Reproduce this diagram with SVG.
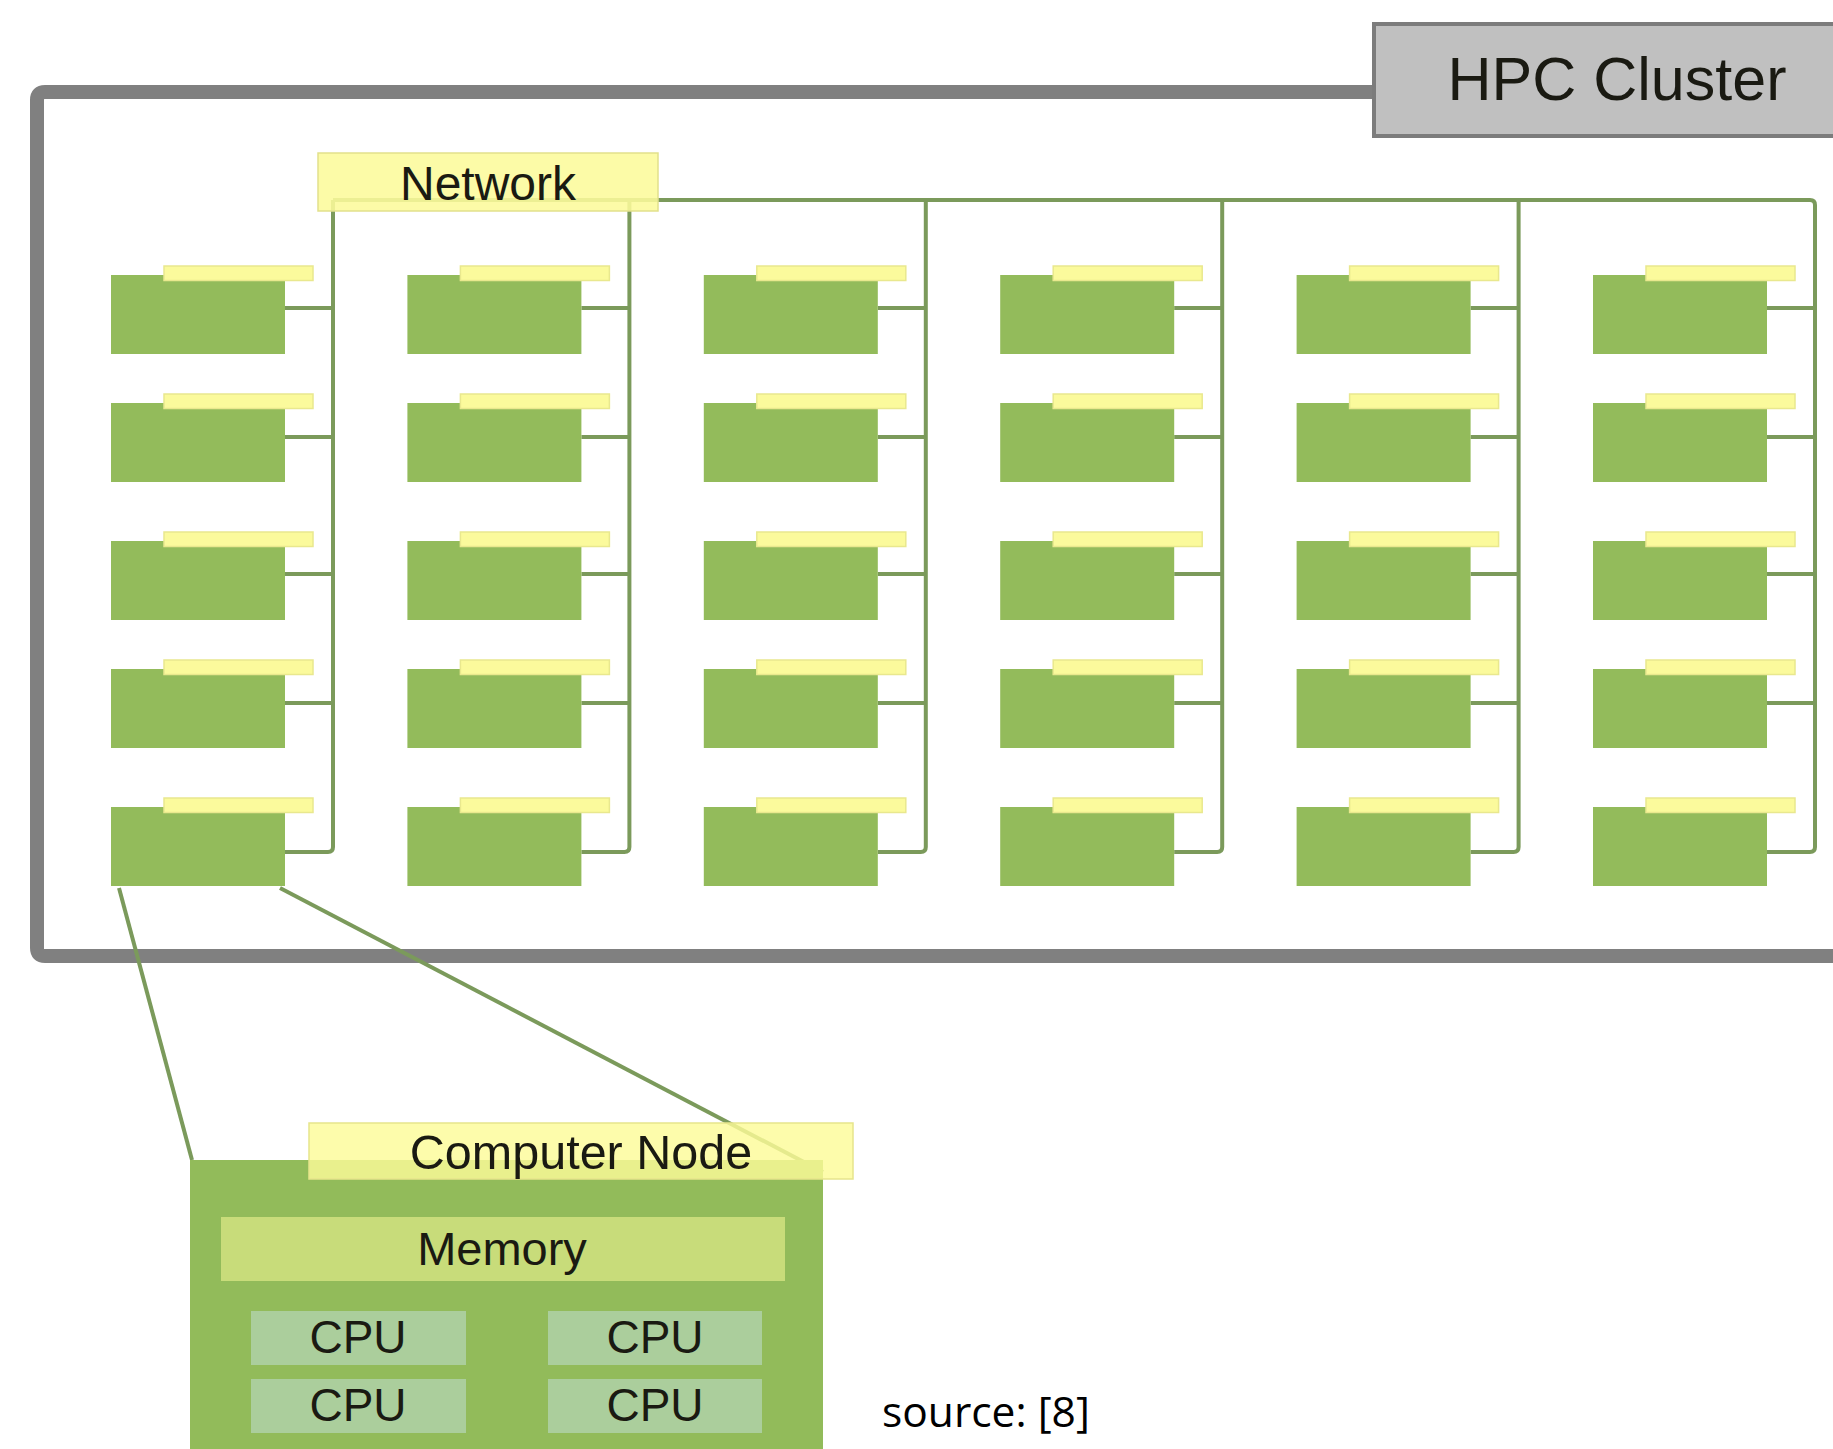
<svg xmlns="http://www.w3.org/2000/svg" width="1833" height="1449" viewBox="0 0 1833 1449">
  <style>
    .frame { fill: none; stroke: #808080; stroke-width: 14; }
    .wire { fill: none; stroke: #7b9a5b; stroke-width: 4; }
    .node { fill: #93bb5b; }
    .tab { fill: #fbfa9c; stroke: #e9e88e; stroke-width: 1.5; }
    .label { font-family: "Liberation Sans", Arial, sans-serif; fill: #1a1a12; text-anchor: middle; }
    .cpu { fill: #abce9c; }
  </style>
  <defs>
    <!-- one cluster node: green body with a yellow tab on top -->
    <g id="cnode">
      <rect class="node" x="0" y="0" width="174" height="79"/>
      <rect class="tab" x="53" y="-9" width="149" height="14.5"/>
    </g>
  </defs>

  <rect width="1833" height="1449" fill="#ffffff"/>

  <!-- cluster boundary -->
  <g id="cluster-frame">
    <path class="frame" d="M1374,92 H45 Q37,92 37,100 V948 Q37,956 45,956 H1845"/>
  </g>

  <!-- network wiring -->
  <g id="connectors">
    <path class="wire" d="M333,200 H1810 Q1815,200 1815,205"/>
    <!-- column buses and node drops -->
    <g id="bus-col1">
      <path class="wire" d="M333,200 V847 Q333,852 328,852 H285"/>
      <path class="wire" d="M285,308 H333 M285,437 H333 M285,574 H333 M285,703 H333"/>
    </g>
    <g id="bus-col2">
      <path class="wire" d="M629.4,200 V847 Q629.4,852 624.4,852 H581.4"/>
      <path class="wire" d="M581.4,308 H629.4 M581.4,437 H629.4 M581.4,574 H629.4 M581.4,703 H629.4"/>
    </g>
    <g id="bus-col3">
      <path class="wire" d="M925.8,200 V847 Q925.8,852 920.8,852 H877.8"/>
      <path class="wire" d="M877.8,308 H925.8 M877.8,437 H925.8 M877.8,574 H925.8 M877.8,703 H925.8"/>
    </g>
    <g id="bus-col4">
      <path class="wire" d="M1222.2,200 V847 Q1222.2,852 1217.2,852 H1174.2"/>
      <path class="wire" d="M1174.2,308 H1222.2 M1174.2,437 H1222.2 M1174.2,574 H1222.2 M1174.2,703 H1222.2"/>
    </g>
    <g id="bus-col5">
      <path class="wire" d="M1518.6,200 V847 Q1518.6,852 1513.6,852 H1470.6"/>
      <path class="wire" d="M1470.6,308 H1518.6 M1470.6,437 H1518.6 M1470.6,574 H1518.6 M1470.6,703 H1518.6"/>
    </g>
    <g id="bus-col6">
      <path class="wire" d="M1815,205 V847 Q1815,852 1810,852 H1767"/>
      <path class="wire" d="M1767,308 H1815 M1767,437 H1815 M1767,574 H1815 M1767,703 H1815"/>
    </g>
    <!-- zoom lines to the node detail -->
    <path class="wire" stroke-width="3.5" d="M119,888 L192,1160"/>
    <path class="wire" stroke-width="3.5" d="M280,888 L823,1172"/>
  </g>

  <!-- network label -->
  <g id="network">
    <rect x="318" y="153" width="340" height="58" fill="#fcfb9b" fill-opacity="0.88" stroke="#e2e18c" stroke-width="1.5"/>
    <text class="label" x="488" y="200" font-size="48">Network</text>
  </g>

  <!-- cluster title -->
  <g id="hpc-cluster">
    <rect x="1374" y="24" width="470" height="112" fill="#c0c0c0" stroke="#7c7c7c" stroke-width="4"/>
    <text class="label" x="1617" y="100" font-size="61">HPC Cluster</text>
  </g>

  <!-- compute nodes: 6 columns x 5 rows -->
  <g id="nodes">
    <g id="col1">
      <use href="#cnode" x="111" y="275"/>
      <use href="#cnode" x="111" y="403"/>
      <use href="#cnode" x="111" y="541"/>
      <use href="#cnode" x="111" y="669"/>
      <use href="#cnode" x="111" y="807"/>
    </g>
    <g id="col2">
      <use href="#cnode" x="407.4" y="275"/>
      <use href="#cnode" x="407.4" y="403"/>
      <use href="#cnode" x="407.4" y="541"/>
      <use href="#cnode" x="407.4" y="669"/>
      <use href="#cnode" x="407.4" y="807"/>
    </g>
    <g id="col3">
      <use href="#cnode" x="703.8" y="275"/>
      <use href="#cnode" x="703.8" y="403"/>
      <use href="#cnode" x="703.8" y="541"/>
      <use href="#cnode" x="703.8" y="669"/>
      <use href="#cnode" x="703.8" y="807"/>
    </g>
    <g id="col4">
      <use href="#cnode" x="1000.2" y="275"/>
      <use href="#cnode" x="1000.2" y="403"/>
      <use href="#cnode" x="1000.2" y="541"/>
      <use href="#cnode" x="1000.2" y="669"/>
      <use href="#cnode" x="1000.2" y="807"/>
    </g>
    <g id="col5">
      <use href="#cnode" x="1296.6" y="275"/>
      <use href="#cnode" x="1296.6" y="403"/>
      <use href="#cnode" x="1296.6" y="541"/>
      <use href="#cnode" x="1296.6" y="669"/>
      <use href="#cnode" x="1296.6" y="807"/>
    </g>
    <g id="col6">
      <use href="#cnode" x="1593" y="275"/>
      <use href="#cnode" x="1593" y="403"/>
      <use href="#cnode" x="1593" y="541"/>
      <use href="#cnode" x="1593" y="669"/>
      <use href="#cnode" x="1593" y="807"/>
    </g>
  </g>

  <!-- enlarged single node -->
  <g id="computer-node">
    <rect x="190" y="1160" width="633" height="300" fill="#92bb5a"/>
    <rect x="309" y="1123" width="544" height="56" fill="#fcfb98" fill-opacity="0.82" stroke="#e6e58c" stroke-width="1.5"/>
    <text class="label" x="581" y="1169" font-size="48.5">Computer Node</text>
    <g id="memory">
      <rect x="221" y="1217" width="564" height="64" fill="#c8dc7a"/>
      <text class="label" x="502" y="1265" font-size="47">Memory</text>
    </g>
    <g id="cpu1">
      <rect class="cpu" x="251" y="1311" width="215" height="54"/>
      <text class="label" x="358" y="1353" font-size="46">CPU</text>
    </g>
    <g id="cpu2">
      <rect class="cpu" x="548" y="1311" width="214" height="54"/>
      <text class="label" x="655" y="1353" font-size="46">CPU</text>
    </g>
    <g id="cpu3">
      <rect class="cpu" x="251" y="1379" width="215" height="54"/>
      <text class="label" x="358" y="1421" font-size="46">CPU</text>
    </g>
    <g id="cpu4">
      <rect class="cpu" x="548" y="1379" width="214" height="54"/>
      <text class="label" x="655" y="1421" font-size="46">CPU</text>
    </g>
  </g>

  <text x="882" y="1427" font-family="'Open Sans', 'Noto Sans', sans-serif" font-size="42.5" fill="#000000">source: [8]</text>
</svg>
